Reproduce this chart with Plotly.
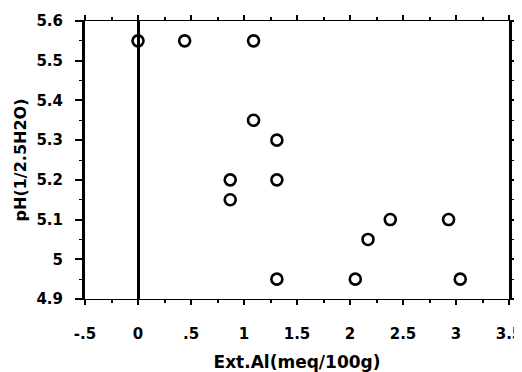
import plotly.graph_objects as go

ext_al = [0.0, 0.44, 1.09, 1.09, 1.31, 0.87, 1.31, 0.87, 2.38, 2.93, 2.17, 2.05, 3.04, 1.31]
ph = [5.55, 5.55, 5.55, 5.35, 5.30, 5.20, 5.20, 5.15, 5.10, 5.10, 5.05, 4.95, 4.95, 4.95]

x_ticks = [-0.5, 0, 0.5, 1, 1.5, 2, 2.5, 3, 3.5]
x_labels = ["-.5", "0", ".5", "1", "1.5", "2", "2.5", "3", "3.5"]
y_ticks = [4.9, 5.0, 5.1, 5.2, 5.3, 5.4, 5.5, 5.6]
y_labels = ["4.9", "5", "5.1", "5.2", "5.3", "5.4", "5.5", "5.6"]

FAM = "DejaVu Sans, Arial, sans-serif"
tickfont = dict(family=FAM, size=15, color="black", weight="bold")

fig = go.Figure()
fig.add_trace(go.Scatter(
    x=ext_al, y=ph, mode="markers",
    marker=dict(symbol="circle-open", size=11, color="black", line=dict(width=2.6, color="black")),
    showlegend=False,
))

# the page body has an 8px margin, so the figure is sized 514x364 to fill the 522x372 window
fig.update_layout(
    width=514, height=364,
    margin=dict(l=77, r=13, t=13, b=73),
    paper_bgcolor="white", plot_bgcolor="white",
    font=dict(family=FAM, size=15, color="black"),
    xaxis=dict(
        range=[-0.5, 3.5], tickvals=x_ticks, ticktext=x_labels,
        automargin=False, ticklabeloverflow="allow",
        showgrid=False, zeroline=True, zerolinecolor="black", zerolinewidth=3,
        showline=True, linecolor="black", linewidth=1, mirror="ticks",
        ticks="outside", ticklen=5, tickwidth=2, tickcolor="black",
        ticklabelstandoff=16,
        minor=dict(dtick=0.25, tick0=0, ticks="outside", ticklen=3, tickwidth=1.5, tickcolor="black"),
        tickfont=tickfont,
        title=dict(text="Ext.Al(meq/100g)", standoff=15,
                   font=dict(family=FAM, size=17, color="black", weight="bold")),
    ),
    yaxis=dict(
        range=[4.9, 5.6], tickvals=y_ticks, ticktext=y_labels,
        automargin=False, ticklabeloverflow="allow",
        showgrid=False, zeroline=False,
        showline=True, linecolor="black", linewidth=3, mirror="ticks",
        ticks="outside", ticklen=7, tickwidth=1.5, tickcolor="black",
        ticklabelstandoff=9,
        minor=dict(dtick=0.05, tick0=4.9, ticks="outside", ticklen=3, tickwidth=1, tickcolor="black"),
        tickfont=tickfont,
        title=dict(text="pH(1/2.5H2O)", standoff=6,
                   font=dict(family=FAM, size=16, color="black", weight="bold")),
    ),
)

fig.write_html("out.html")
